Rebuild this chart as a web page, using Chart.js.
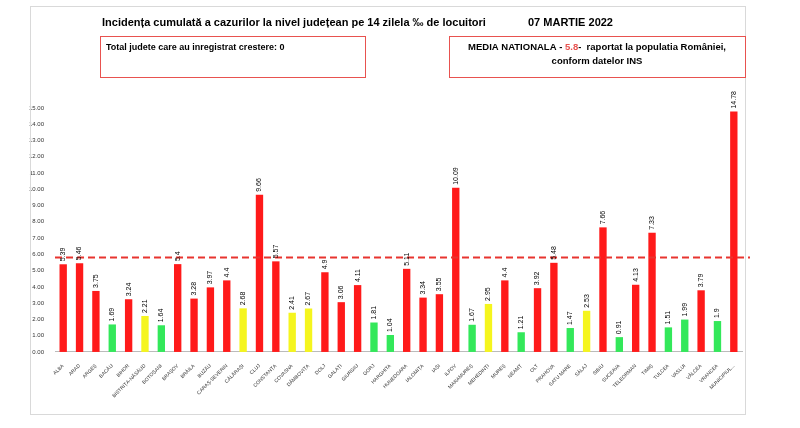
<!DOCTYPE html>
<html>
<head>
<meta charset="utf-8">
<script src="https://cdn.jsdelivr.net/npm/chart.js@4"></script>
<style>
  body { margin: 0; background: #fff; }
  #wrap { width: 800px; height: 428px; position: relative; }
</style>
</head>
<body>
<div id="wrap"><canvas id="grafic"></canvas></div>
<script>
const judete = ['ALBA', 'ARAD', 'ARGEȘ', 'BACĂU', 'BIHOR', 'BISTRIȚA-NĂSĂUD', 'BOTOȘANI', 'BRAȘOV', 'BRĂILA', 'BUZĂU',
    'CARAȘ-SEVERIN', 'CĂLĂRAȘI', 'CLUJ', 'CONSTANȚA', 'COVASNA', 'DÂMBOVIȚA', 'DOLJ', 'GALAȚI', 'GIURGIU', 'GORJ',
    'HARGHITA', 'HUNEDOARA', 'IALOMIȚA', 'IAȘI', 'ILFOV', 'MARAMUREȘ', 'MEHEDINȚI', 'MUREȘ', 'NEAMȚ', 'OLT',
    'PRAHOVA', 'SATU MARE', 'SĂLAJ', 'SIBIU', 'SUCEAVA', 'TELEORMAN', 'TIMIȘ', 'TULCEA', 'VASLUI', 'VÂLCEA',
    'VRANCEA', 'MUNICIPIUL...']
const incidenta = [5.39, 5.46, 3.75, 1.69, 3.24, 2.21, 1.64, 5.4, 3.28, 3.97,
    4.4, 2.68, 9.66, 5.57, 2.41, 2.67, 4.9, 3.06, 4.11, 1.81,
    1.04, 5.11, 3.34, 3.55, 10.09, 1.67, 2.95, 4.4, 1.21, 3.92,
    5.48, 1.47, 2.53, 7.66, 0.91, 4.13, 7.33, 1.51, 1.99, 3.79,
    1.9, 14.78]
const mediaNationala = 5.8

/** culoarea barei dupa prag */
function culoare(v){
    if(v < 2) return '#33e85a'
    if(v < 3) return '#f5f51e'
    return '#ff1a1a'
}

/** desene peste grafic: titlu, casete, linia medie, etichete */
const extra = {
    id: 'extra',
    afterDraw(chart){
        const ctx = chart.ctx
        const x = chart.scales.x, y = chart.scales.y
        ctx.save()
        // chenar exterior
        ctx.strokeStyle = '#d9d9d9'; ctx.lineWidth = 1
        ctx.strokeRect(30.5, 6.5, 715, 408)
        // titlu
        ctx.fillStyle = '#000'; ctx.font = 'bold 11px "Liberation Sans"'; ctx.textAlign = 'left'
        ctx.fillText('Incidența cumulată a cazurilor la nivel județean pe 14 zilela ‰ de locuitori', 102, 26)
        ctx.fillText('07 MARTIE 2022', 528, 26)
        // casete
        ctx.strokeStyle = '#e8524f'; ctx.lineWidth = 1
        ctx.strokeRect(100.5, 36.5, 265, 41)
        ctx.strokeRect(449.5, 36.5, 296, 41)
        ctx.font = 'bold 9px "Liberation Sans"'
        ctx.fillText('Total judete care au inregistrat crestere: 0', 106, 50)
        ctx.textAlign = 'left'
        ctx.font = 'bold 9.5px "Liberation Sans"'
        const t1 = 'MEDIA NATIONALA - ', t2 = '5.8', t3 = '-  raportat la populatia României,'
        const w1 = ctx.measureText(t1).width, w2 = ctx.measureText(t2).width, w3 = ctx.measureText(t3).width
        let sx = 597 - (w1 + w2 + w3) / 2
        ctx.fillText(t1, sx, 50)
        ctx.fillStyle = '#e8524f'
        ctx.fillText(t2, sx + w1, 50)
        ctx.fillStyle = '#000'
        ctx.fillText(t3, sx + w1 + w2, 50)
        ctx.textAlign = 'center'
        ctx.fillText('conform datelor INS', 597, 64)
        // linia medie
        ctx.strokeStyle = '#e8342f'; ctx.lineWidth = 2; ctx.setLineDash([7, 4])
        const ym = y.getPixelForValue(mediaNationala)
        ctx.beginPath(); ctx.moveTo(x.left, ym); ctx.lineTo(x.right + 8, ym); ctx.stroke()
        ctx.setLineDash([])
        // etichete valori
        ctx.font = '7px "Liberation Sans"'; ctx.textAlign = 'left'; ctx.textBaseline = 'middle'
        chart.getDatasetMeta(0).data.forEach((bar, i) => {
            ctx.save()
            ctx.translate(bar.x, bar.y - 3)
            ctx.rotate(-Math.PI / 2)
            ctx.fillText(String(incidenta[i]), 0, 0)
            ctx.restore()
        })
        ctx.restore()
    }
}

new Chart(document.getElementById('grafic').getContext('2d'), {
    type: 'bar',
    data: {
        labels: judete,
        datasets: [{
            data: incidenta,
            backgroundColor: incidenta.map(culoare),
            barPercentage: 0.45,
            categoryPercentage: 1
        }]
    },
    options: {
        responsive: true,
        maintainAspectRatio: false,
        animation: false,
        layout: { padding: { left: 26, top: 108, right: 58, bottom: 26 } },
        scales: {
            y: {
                min: 0, max: 15,
                ticks: { stepSize: 1, font: { size: 6, family: 'Liberation Sans' }, color: '#333', callback: v => v.toFixed(2) },
                grid: { display: false },
                border: { display: false }
            },
            x: {
                ticks: { font: { size: 5, family: 'Liberation Sans' }, color: '#333', maxRotation: 45, minRotation: 45, autoSkip: false },
                grid: { display: false },
                border: { color: '#bbb' }
            }
        },
        plugins: { legend: { display: false }, tooltip: { enabled: false } }
    },
    plugins: [extra]
});
</script>
</body>
</html>
